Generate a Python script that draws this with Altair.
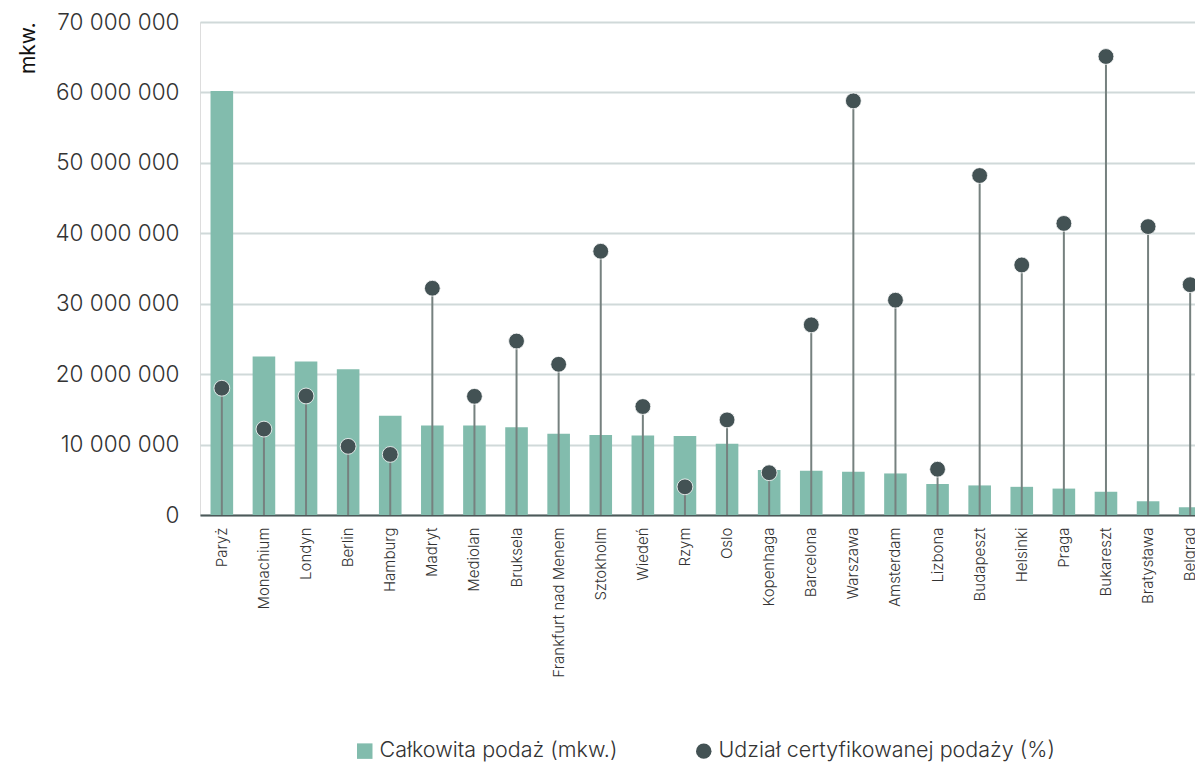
import altair as alt
import pandas as pd

cities = ["Paryż", "Monachium", "Londyn", "Berlin", "Hamburg", "Madryt", "Mediolan",
          "Bruksela", "Frankfurt nad Menem", "Sztokholm", "Wiedeń", "Rzym", "Oslo",
          "Kopenhaga", "Barcelona", "Warszawa", "Amsterdam", "Lizbona", "Budapeszt",
          "Helsinki", "Praga", "Bukareszt", "Bratysława", "Belgrad"]
supply_mln = [60.2, 22.5, 21.8, 20.7, 14.1, 12.7, 12.7, 12.45, 11.55, 11.35, 11.3, 11.2,
              10.1, 6.4, 6.3, 6.15, 5.9, 4.4, 4.2, 4.0, 3.75, 3.3, 1.95, 1.1]
certified_pct = [18.0, 12.2, 16.9, 9.75, 8.6, 32.2, 16.85, 24.7, 21.4, 37.45, 15.4, 4.0,
                 13.5, 6.0, 27.0, 58.8, 30.5, 6.5, 48.2, 35.5, 41.4, 65.1, 40.95, 32.7]
series = ["Całkowita podaż (mkw.)", "Udział certyfikowanej podaży (%)"]

df = pd.DataFrame({
    "city": cities,
    "supply": [v * 1_000_000 for v in supply_mln],
    "pct": certified_pct,
})
legend_df = pd.DataFrame({"series": series})

FONT = "Inter"
TXT = "#333333"
BAR = "#82bcad"
DOT = "#435254"
STEM = "#76817f"

x_enc = alt.X("city:N", sort=cities, title=None,
              scale=alt.Scale(range=[0, 1012], paddingInner=0.463, paddingOuter=0.25),
              axis=alt.Axis(labelAngle=270, labelFontSize=15, labelColor=TXT, labelFont=FONT,
                            labelFontWeight=300, labelPadding=12, ticks=False,
                            domainColor="#4c5959", domainWidth=2, grid=False,
                            labelAlign="right", labelBaseline="middle"))

bars = alt.Chart(df).mark_bar(color=BAR).encode(
    x=x_enc,
    y=alt.Y("supply:Q", title="mkw.",
            scale=alt.Scale(domain=[0, 70_000_000], nice=False),
            axis=alt.Axis(values=[i * 10_000_000 for i in range(8)],
                          labelExpr="replace(format(datum.value, ',d'), /,/g, ' ')",
                          labelFontSize=22.5, labelColor=TXT, labelFont=FONT, labelFontWeight=300,
                          labelPadding=21, ticks=False, domain=False,
                          gridColor="#d0d9d9", gridWidth=2,
                          titleAngle=270, titleAnchor="end", titleX=-172,
                          titleBaseline="middle", titleFontSize=21, titleFont=FONT,
                          titleFontWeight=400, titleColor="#111111")),
)

pct_scale = alt.Scale(domain=[0, 70], nice=False)

stems = alt.Chart(df).mark_rule(color=STEM, strokeWidth=2).encode(
    x=alt.X("city:N", sort=cities),
    y=alt.Y("pct:Q", scale=pct_scale, axis=None),
    y2=alt.datum(0),
)

points = alt.Chart(df).mark_circle(color=DOT, size=250, opacity=1,
                                   stroke="white", strokeWidth=0.8).encode(
    x=alt.X("city:N", sort=cities),
    y=alt.Y("pct:Q", scale=pct_scale, axis=None),
)

leg = dict(title=None, orient="none", legendX=154, legendY=718,
           direction="horizontal", labelFontSize=21.5, labelFont=FONT,
           labelFontWeight=300, labelColor=TXT, symbolSize=240, labelLimit=0,
           symbolOpacity=1, symbolStrokeWidth=0, columnPadding=75, labelOffset=4)

# legend-only layer: its marks sit below the view and are clipped away
legend_layer = alt.Chart(legend_df).mark_point(filled=True, opacity=1, clip=True).encode(
    y=alt.datum(-20, scale=alt.Scale(domain=[0, 70], nice=False), axis=None),
    color=alt.Color("series:N", sort=series,
                    scale=alt.Scale(domain=series, range=[BAR, DOT]),
                    legend=alt.Legend(**leg)),
    shape=alt.Shape("series:N", sort=series,
                    scale=alt.Scale(domain=series, range=["square", "circle"]),
                    legend=alt.Legend(**leg)),
)

chart = alt.layer(bars, stems, points, legend_layer).resolve_scale(
    y="independent"
).properties(
    width=995, height=493,
    autosize=alt.AutoSizeParams(type="none"),
    padding={"left": 200, "top": 22, "right": 0, "bottom": 252},
).configure_view(stroke=None).configure(background="white")

chart.save("out.html", embed_options={"renderer": "svg", "actions": False})
